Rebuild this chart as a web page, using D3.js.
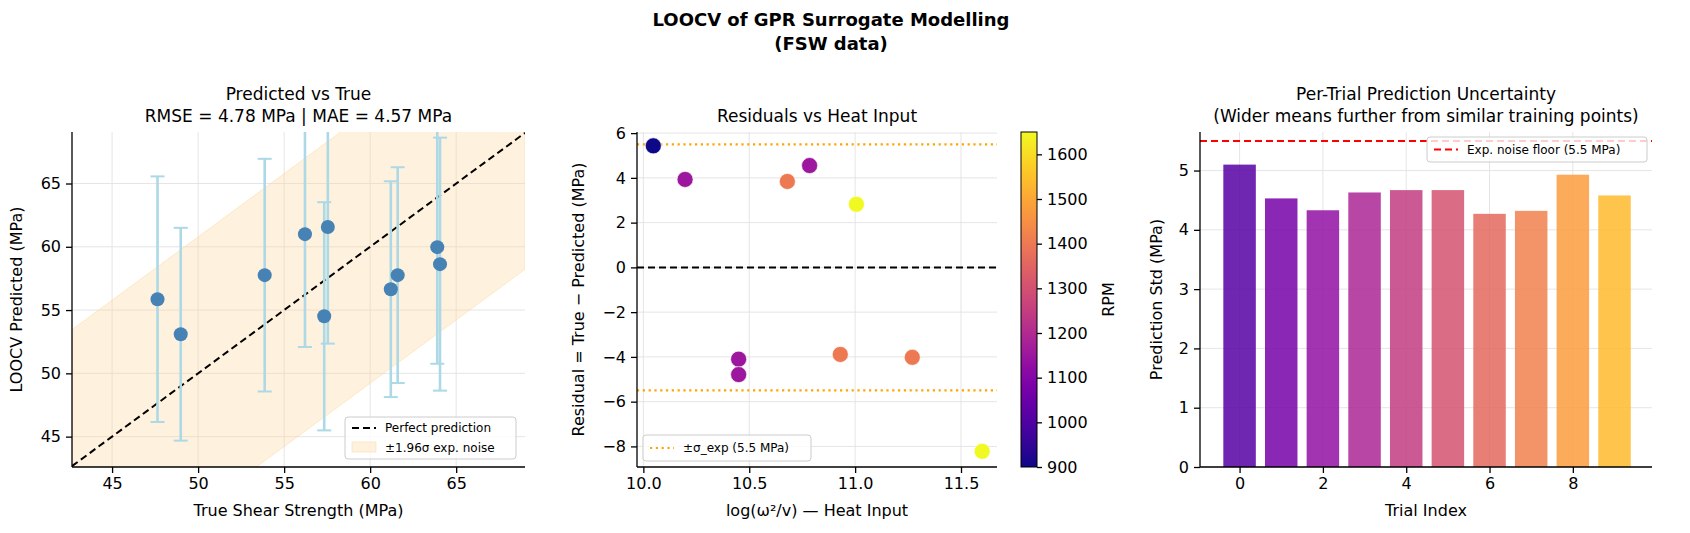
<!DOCTYPE html>
<html>
<head>
<script src="https://d3js.org/d3.v7.min.js"></script>
<style>
  body { margin: 0; background: #fff; }
  svg text { font-family: "DejaVu Sans", sans-serif; fill: #000; }
</style>
</head>
<body>
<svg id="chart" width="1690" height="533"></svg>
<script>
// per-trial data (panel 1 & 2)
const trueStrength = [47.64, 48.99, 53.87, 56.21, 57.33, 57.54, 61.2, 61.6, 63.9, 64.06];
const predicted    = [55.86, 53.09, 57.76, 61.0, 54.51, 61.56, 56.65, 57.76, 59.97, 58.63];
const predSigma    = [4.95, 4.29, 4.69, 4.55, 4.6, 4.7, 4.35, 4.35, 4.7, 5.1];
const heatInput    = [11.6, 10.45, 10.93, 10.45, 11.006, 11.27, 10.785, 10.68, 10.197, 10.047];
const rpm          = [1650, 1150, 1400, 1150, 1650, 1400, 1150, 1400, 1150, 900];
// panel 3
const trialIndex = [0, 1, 2, 3, 4, 5, 6, 7, 8, 9];
const trialStd   = [5.1, 4.53, 4.33, 4.63, 4.67, 4.67, 4.27, 4.32, 4.93, 4.58];
const noise = 5.5;

const svg = d3.select("#chart");
const yTop = 132, yBot = 467;
const TF = 18, LF = 16, KF = 16, GF = 12;  // title, label, tick, legend font sizes

svg.append("text").attr("x", 831).attr("y", 26).attr("text-anchor", "middle")
  .attr("font-size", TF).attr("font-weight", "bold").text("LOOCV of GPR Surrogate Modelling");
svg.append("text").attr("x", 831).attr("y", 50).attr("text-anchor", "middle")
  .attr("font-size", TF).attr("font-weight", "bold").text("(FSW data)");

function grid(g, x, y, xt, yt) {
  g.append("g").selectAll("line").data(xt).join("line")
    .attr("x1", d => x(d)).attr("x2", d => x(d)).attr("y1", yTop).attr("y2", yBot)
    .attr("stroke", "#e2e2e2").attr("stroke-width", 0.9);
  g.append("g").selectAll("line").data(yt).join("line")
    .attr("y1", d => y(d)).attr("y2", d => y(d)).attr("x1", x.range()[0]).attr("x2", x.range()[1])
    .attr("stroke", "#e2e2e2").attr("stroke-width", 0.9);
}
function axesTicks(g, x, y, xt, yt, xfmt, yfmt) {
  const xa = g.append("g").attr("transform", `translate(0,${yBot})`)
    .call(d3.axisBottom(x).tickValues(xt).tickFormat(xfmt || null).tickSize(6).tickPadding(5));
  const ya = g.append("g").attr("transform", `translate(${x.range()[0]},0)`)
    .call(d3.axisLeft(y).tickValues(yt).tickFormat(yfmt || null).tickSize(6).tickPadding(5));
  [xa, ya].forEach(a => {
    a.selectAll("text").attr("font-size", KF).style("font-family", "DejaVu Sans");
    a.select(".domain").attr("stroke-width", 1.3);
    a.selectAll(".tick line").attr("stroke-width", 1.3);
  });
  xa.select(".domain").attr("d", `M${x.range()[0]},0H${x.range()[1]}`);
  ya.select(".domain").attr("d", `M0,${y.range()[0]}V${y.range()[1]}`);
}
const minus = d => (d < 0 ? "\u2212" + Math.abs(d) : String(d));
function titles(cx, lines, xlabel, ylabelX, ylabel) {
  lines.forEach((t, i) => svg.append("text").attr("x", cx).attr("y", 122 - (lines.length - 1 - i) * 22)
    .attr("text-anchor", "middle").attr("font-size", TF - 1).text(t));
  svg.append("text").attr("x", cx).attr("y", 516).attr("text-anchor", "middle").attr("font-size", LF).text(xlabel);
  svg.append("text").attr("transform", `translate(${ylabelX},${(yTop + yBot) / 2}) rotate(-90)`)
    .attr("text-anchor", "middle").attr("font-size", LF).text(ylabel);
}

// ---------- panel 1 ----------
{
  const g = svg.append("g");
  const x = d3.scaleLinear().domain([42.67, 69]).range([72, 525]);
  const y = d3.scaleLinear().domain([42.6, 69.07]).range([yBot, yTop]);
  const ticks = [45, 50, 55, 60, 65];
  grid(g, x, y, ticks, ticks);
  g.append("clipPath").attr("id", "c1").append("rect")
    .attr("x", 72).attr("y", yTop).attr("width", 453).attr("height", yBot - yTop);
  const band = 1.96 * noise, dom = [42.67, 69];
  const gc = g.append("g").attr("clip-path", "url(#c1)");
  gc.append("path").attr("fill", "#fdd9a0").attr("fill-opacity", 0.35)
    .attr("stroke", "#fdd9a0").attr("stroke-opacity", 0.5)
    .attr("d", d3.area().x(d => x(d)).y0(d => y(d - band)).y1(d => y(d + band))(dom));
  gc.append("path").attr("stroke", "#000").attr("stroke-width", 2).attr("stroke-dasharray", "7,4")
    .attr("fill", "none").attr("d", d3.line().x(d => x(d)).y(d => y(d))(dom));
  const idx = d3.range(trueStrength.length);
  const eb = gc.append("g").attr("stroke", "#add8e6").attr("stroke-width", 2.6);
  idx.forEach(i => {
    const cx = x(trueStrength[i]), lo = y(predicted[i] - 1.96 * predSigma[i]), hi = y(predicted[i] + 1.96 * predSigma[i]);
    eb.append("line").attr("x1", cx).attr("x2", cx).attr("y1", lo).attr("y2", hi);
    eb.append("line").attr("x1", cx - 7).attr("x2", cx + 7).attr("y1", lo).attr("y2", lo).attr("stroke-width", 2);
    eb.append("line").attr("x1", cx - 7).attr("x2", cx + 7).attr("y1", hi).attr("y2", hi).attr("stroke-width", 2);
  });
  gc.append("g").selectAll("circle").data(idx).join("circle")
    .attr("cx", i => x(trueStrength[i])).attr("cy", i => y(predicted[i])).attr("r", 7)
    .attr("fill", "#4682b4");
  axesTicks(g, x, y, ticks, ticks);
  titles(298.5, ["Predicted vs True", "RMSE = 4.78 MPa | MAE = 4.57 MPa"], "True Shear Strength (MPa)", 22, "LOOCV Predicted (MPa)");
  const lg = g.append("g").attr("transform", "translate(345,417)");
  lg.append("rect").attr("width", 171).attr("height", 42).attr("rx", 3).attr("fill", "#fff").attr("fill-opacity", 0.8).attr("stroke", "#ccc");
  lg.append("line").attr("x1", 7).attr("x2", 31).attr("y1", 11).attr("y2", 11).attr("stroke", "#000").attr("stroke-width", 2).attr("stroke-dasharray", "7,4");
  lg.append("text").attr("x", 40).attr("y", 15).attr("font-size", GF).text("Perfect prediction");
  lg.append("rect").attr("x", 7).attr("y", 25).attr("width", 24).attr("height", 10).attr("fill", "#fdd9a0").attr("fill-opacity", 0.35).attr("stroke", "#fdd9a0").attr("stroke-opacity", 0.5);
  lg.append("text").attr("x", 40).attr("y", 35).attr("font-size", GF).text("±1.96σ exp. noise");
}

// ---------- panel 2 ----------
{
  const g = svg.append("g");
  const x = d3.scaleLinear().domain([9.97, 11.67]).range([637, 997]);
  const y = d3.scaleLinear().domain([-8.92, 6.05]).range([yBot, yTop]);
  const xt = [10.0, 10.5, 11.0, 11.5], yt = [-8, -6, -4, -2, 0, 2, 4, 6];
  grid(g, x, y, xt, yt);
  const color = d3.scaleSequential(d3.interpolatePlasma).domain([900, 1650]);
  [noise, -noise].forEach(v => g.append("line").attr("x1", 637).attr("x2", 997).attr("y1", y(v)).attr("y2", y(v))
    .attr("stroke", "orange").attr("stroke-width", 2.2).attr("stroke-dasharray", "2.2,3.6"));
  g.append("line").attr("x1", 637).attr("x2", 997).attr("y1", y(0)).attr("y2", y(0))
    .attr("stroke", "#000").attr("stroke-width", 2).attr("stroke-dasharray", "7,4");
  const idx = d3.range(heatInput.length);
  g.append("g").selectAll("circle").data(idx).join("circle")
    .attr("cx", i => x(heatInput[i])).attr("cy", i => y(trueStrength[i] - predicted[i])).attr("r", 8)
    .attr("fill", i => color(rpm[i])).attr("stroke", "#fff").attr("stroke-width", 0.6);
  axesTicks(g, x, y, xt, yt, d3.format(".1f"), minus);
  titles(817, ["Residuals vs Heat Input"], "log(ω²/v) — Heat Input", 584, "Residual = True − Predicted (MPa)");
  const lg = g.append("g").attr("transform", "translate(643,435)");
  lg.append("rect").attr("width", 168).attr("height", 26).attr("rx", 3).attr("fill", "#fff").attr("fill-opacity", 0.8).attr("stroke", "#ccc");
  lg.append("line").attr("x1", 7).attr("x2", 31).attr("y1", 13).attr("y2", 13).attr("stroke", "orange").attr("stroke-width", 2.2).attr("stroke-dasharray", "2.2,3.6");
  lg.append("text").attr("x", 40).attr("y", 17).attr("font-size", GF).text("±σ_exp (5.5 MPa)");
  // colorbar
  const cb = d3.scaleLinear().domain([900, 1650]).range([yBot, yTop]);
  const grad = svg.append("defs").append("linearGradient").attr("id", "cbg").attr("x1", 0).attr("x2", 0).attr("y1", 1).attr("y2", 0);
  d3.range(0, 1.01, 0.05).forEach(t => grad.append("stop").attr("offset", t).attr("stop-color", d3.interpolatePlasma(t)));
  g.append("rect").attr("x", 1021).attr("y", yTop).attr("width", 16).attr("height", yBot - yTop).attr("fill", "url(#cbg)").attr("stroke", "#000").attr("stroke-width", 1);
  const ca = g.append("g").attr("transform", "translate(1037,0)")
    .call(d3.axisRight(cb).tickValues(d3.range(900, 1601, 100)).tickFormat(d3.format("d")).tickSize(5).tickPadding(5));
  ca.select(".domain").remove();
  ca.selectAll(".tick line").attr("stroke-width", 1.3);
  ca.selectAll("text").attr("font-size", KF).style("font-family", "DejaVu Sans");
  svg.append("text").attr("transform", `translate(1114,${(yTop + yBot) / 2}) rotate(-90)`).attr("text-anchor", "middle").attr("font-size", LF).text("RPM");
}

// ---------- panel 3 ----------
{
  const g = svg.append("g");
  const x = d3.scaleLinear().domain([-0.95, 9.9]).range([1200, 1652]);
  const y = d3.scaleLinear().domain([0, 5.65]).range([yBot, yTop]);
  const xt = [0, 2, 4, 6, 8], yt = [0, 1, 2, 3, 4, 5];
  grid(g, x, y, xt, yt);
  const bw = x(0.78) - x(0);
  g.append("g").selectAll("rect").data(trialIndex).join("rect")
    .attr("x", i => x(i) - bw / 2).attr("width", bw)
    .attr("y", i => y(trialStd[i])).attr("height", i => y(0) - y(trialStd[i]))
    .attr("fill", i => d3.interpolatePlasma(0.15 + 0.7 * i / 9)).attr("fill-opacity", 0.85);
  g.append("line").attr("x1", 1200).attr("x2", 1652).attr("y1", y(noise)).attr("y2", y(noise))
    .attr("stroke", "red").attr("stroke-width", 2).attr("stroke-dasharray", "7,4");
  axesTicks(g, x, y, xt, yt, d3.format("d"), d3.format("d"));
  titles(1426, ["Per-Trial Prediction Uncertainty", "(Wider means further from similar training points)"], "Trial Index", 1162, "Prediction Std (MPa)");
  const lg = g.append("g").attr("transform", "translate(1427,137)");
  lg.append("rect").attr("width", 220).attr("height", 25).attr("rx", 3).attr("fill", "#fff").attr("fill-opacity", 0.8).attr("stroke", "#ccc");
  lg.append("line").attr("x1", 7).attr("x2", 31).attr("y1", 12.5).attr("y2", 12.5).attr("stroke", "red").attr("stroke-width", 2).attr("stroke-dasharray", "7,4");
  lg.append("text").attr("x", 40).attr("y", 16.5).attr("font-size", GF).text("Exp. noise floor (5.5 MPa)");
}
</script>
</body>
</html>
